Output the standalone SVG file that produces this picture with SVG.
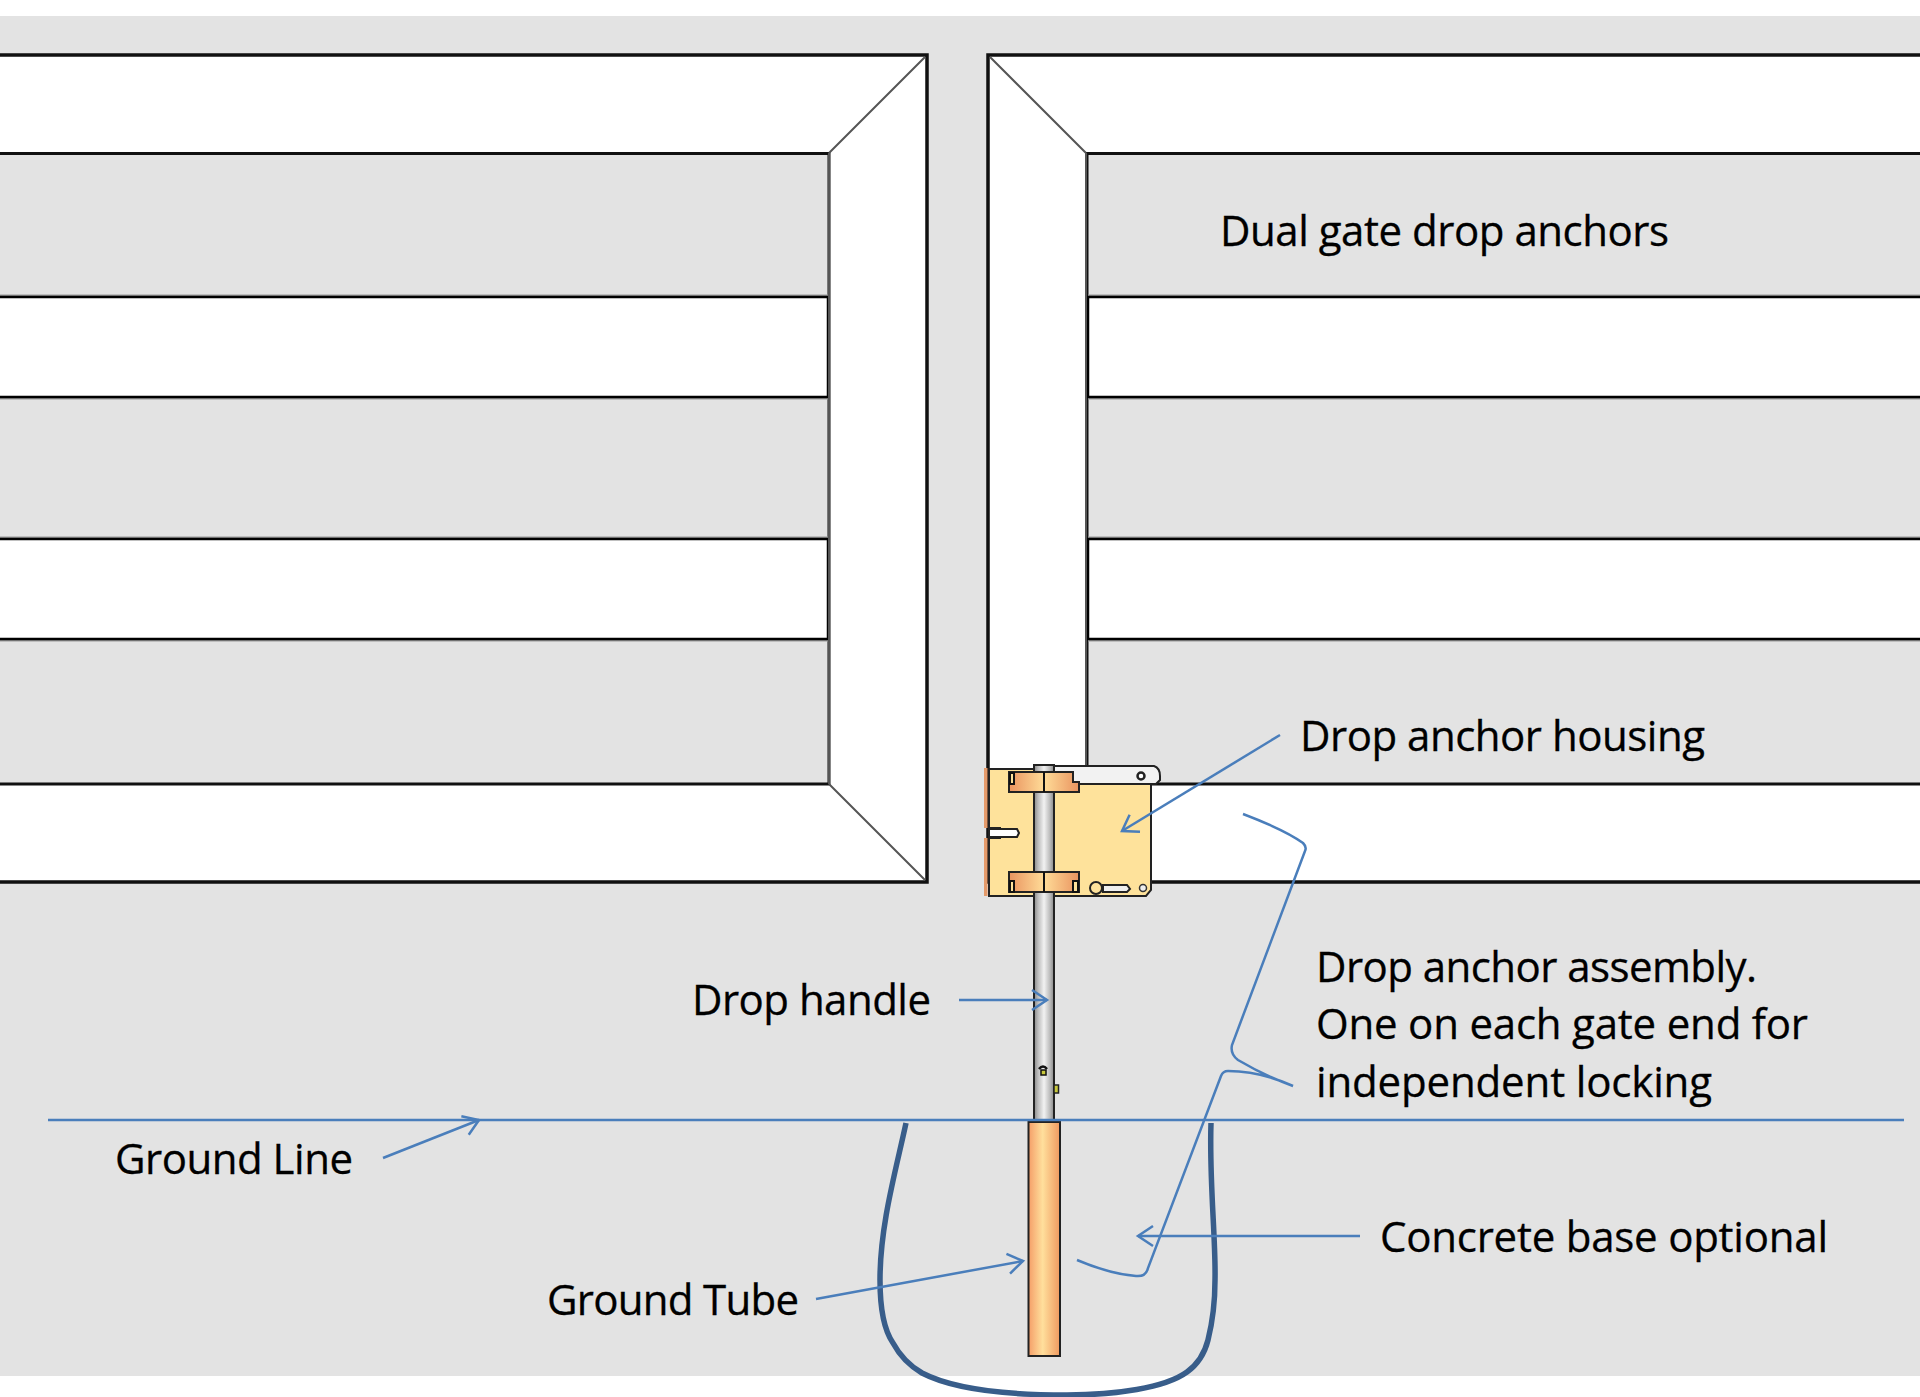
<svg xmlns="http://www.w3.org/2000/svg" width="1920" height="1397" viewBox="0 0 1920 1397">
<style>
.t{font-family:"Open Sans","Liberation Sans",sans-serif;font-size:42px;fill:#000;stroke:#000;stroke-width:.3}
.f{fill:#fff;stroke:#111;stroke-width:3.5}
.bg{fill:none;stroke:#999;stroke-width:5}
.b{fill:#fff;stroke:#000;stroke-width:2.5}
.p{fill:#e3e3e3;stroke:#111;stroke-width:3}
.th{fill:none;stroke:#555;stroke-width:2}
.c{fill:none;stroke:#4a7ebb;stroke-width:2.5}
.k{stroke:#111;stroke-width:2}
.o{stroke:#222;stroke-width:2}
</style>
<defs>
<marker id="a" markerUnits="userSpaceOnUse" markerWidth="30" markerHeight="30" refX="18" refY="15" orient="auto"><path d="M3,5 L18,15 L3,25" fill="none" stroke="#4a7ebb" stroke-width="2.500"/></marker>
<linearGradient id="steel"><stop offset="0" stop-color="#888"/><stop offset=".2" stop-color="#bbb"/><stop offset=".5" stop-color="#f2f2f2"/><stop offset=".8" stop-color="#bbb"/><stop offset="1" stop-color="#888"/></linearGradient>
<linearGradient id="copper"><stop offset="0" stop-color="#f59e68"/><stop offset=".45" stop-color="#ffdf9c"/><stop offset="1" stop-color="#f0995f"/></linearGradient>
<linearGradient id="collar"><stop offset="0" stop-color="#e9935f"/><stop offset=".5" stop-color="#ffdc98"/><stop offset="1" stop-color="#e9935f"/></linearGradient>
</defs>
<rect x="0" y="16" width="1920" height="1360" fill="#e3e3e3"/>
<g id="gate-left">
<path class="f" d="M-5,55 H927 V882 H-5 Z"/>
<path class="p" d="M-5,153.500 H829 V784 H-5 Z"/>
<path class="bg" d="M-5,297 H828 M-5,397 H828 M-5,539 H828 M-5,639 H828"/>
<path class="b" d="M-5,297 H828 V397 H-5 Z"/>
<path class="b" d="M-5,539 H828 V639 H-5 Z"/>
<path class="th" d="M925,57 L829,153 M829,153 V784 M829,784 L925,880"/>
</g>
<g id="gate-right">
<path class="f" d="M1925,55 H988 V882 H1925 Z"/>
<path class="p" d="M1925,153.500 H1087 V784 H1925 Z"/>
<path class="bg" d="M1925,297 H1088 M1925,397 H1088 M1925,539 H1088 M1925,639 H1088"/>
<path class="b" d="M1925,297 H1088 V397 H1925 Z"/>
<path class="b" d="M1925,539 H1088 V639 H1925 Z"/>
<path class="th" d="M990,57 L1086,153 M1086,153 V784"/>
</g>
<g id="anchor-assembly">
<path class="o" d="M989,769 H1151 V890 L1146,896 H989 V838 H1000 V828 H989Z" fill="#fee29b"/>
<path class="o" d="M1054,766 H1154 Q1160,768 1160,776 V780 L1156,784 H1073 V772 H1054Z" fill="#f2f2f2"/>
<rect x="984" y="768" width="3.500" height="60" fill="#e49a6a"/>
<rect x="984" y="838" width="3.500" height="58" fill="#e49a6a"/>
<path class="o" d="M989,829 H1017 L1019,833 L1017,837 H989Z" fill="#fff"/>
<rect class="o" x="1034" y="765" width="20" height="357" fill="url(#steel)"/>
<path class="o" d="M1009,772 H1073 V782 H1079 V792 H1009Z" fill="url(#collar)"/>
<path class="o" d="M1009,872 H1079 V892 H1009Z" fill="url(#collar)"/>
<path d="M1044,772 V792 M1044,872 V892" class="k"/>
<rect x="1010" y="773" width="4" height="11" fill="#fee29b" class="k"/>
<rect x="1010" y="881" width="4" height="11" fill="#fee29b" class="k"/>
<rect x="1073" y="881" width="5" height="11" fill="#fee29b" class="k"/>
<circle cx="1141" cy="776" r="3.500" fill="#fff" stroke="#222" stroke-width="2.500"/>
<path class="o" d="M1103,885 H1127 L1130,889 L1127,892 H1103Z" fill="#eee"/>
<circle cx="1096" cy="888" r="6" fill="#fee29b" stroke="#222" stroke-width="2"/>
<circle cx="1143" cy="888" r="3.500" fill="#eee" stroke="#333" stroke-width="1.500"/>
<path d="M1039,1069 Q1043,1064 1047,1069" fill="none" stroke="#111" stroke-width="2.500"/>
<rect x="1041" y="1070" width="5" height="5" fill="#c8c83c" stroke="#111" stroke-width="1.500"/>
<rect x="1054" y="1085" width="4.500" height="8" fill="#c8c83c" stroke="#222" stroke-width="1.500"/>
<rect class="o" x="1028.500" y="1122" width="31.500" height="234" fill="url(#copper)"/>
</g>
<g id="connectors">
<path id="ground-line" class="c" d="M48,1120 H1904"/>
<path id="concrete-outline" d="M906,1123 C896,1170 880,1225 880,1280 C880,1310 884,1330 893,1343 C900,1356 910,1366 922,1373 C945,1385 990,1395 1067,1395 C1115,1395 1165,1388 1187,1372 C1198,1364 1205,1352 1208,1340 C1213,1320 1215,1300 1215,1280 C1216,1240 1209,1180 1211,1123" fill="none" stroke="#385d8a" stroke-width="5.500"/>
<path class="c" d="M1280,735 L1122,831" marker-end="url(#a)"/>
<path class="c" d="M959,1000 H1047" marker-end="url(#a)"/>
<path class="c" d="M383,1158 L479,1120" marker-end="url(#a)"/>
<path class="c" d="M816,1299 L1023,1261" marker-end="url(#a)"/>
<path class="c" d="M1360,1236 H1138" marker-end="url(#a)"/>
<path class="c" d="M1243,814 Q1285,830 1303,843 Q1307,847 1305,851 L1232,1045 Q1230,1054 1238,1060 Q1265,1076 1293,1086 Q1260,1071 1228,1071 Q1223,1071 1221,1076 L1148,1268 Q1146,1277 1136,1276 Q1110,1274 1077,1260"/>
</g>
<g id="labels">
<text class="t" x="1220" y="246" textLength="449">Dual gate drop anchors</text>
<text class="t" x="1300" y="751" textLength="405">Drop anchor housing</text>
<text class="t" x="692" y="1015" textLength="239">Drop handle</text>
<text class="t" x="115" y="1174" textLength="238">Ground Line</text>
<text class="t" x="547" y="1315" textLength="252">Ground Tube</text>
<text class="t" x="1380" y="1252" textLength="448">Concrete base optional</text>
<text class="t" x="1316" y="982" textLength="441">Drop anchor assembly.</text>
<text class="t" x="1316" y="1039" textLength="492">One on each gate end for</text>
<text class="t" x="1316" y="1097" textLength="396">independent locking</text>
</g>
</svg>
